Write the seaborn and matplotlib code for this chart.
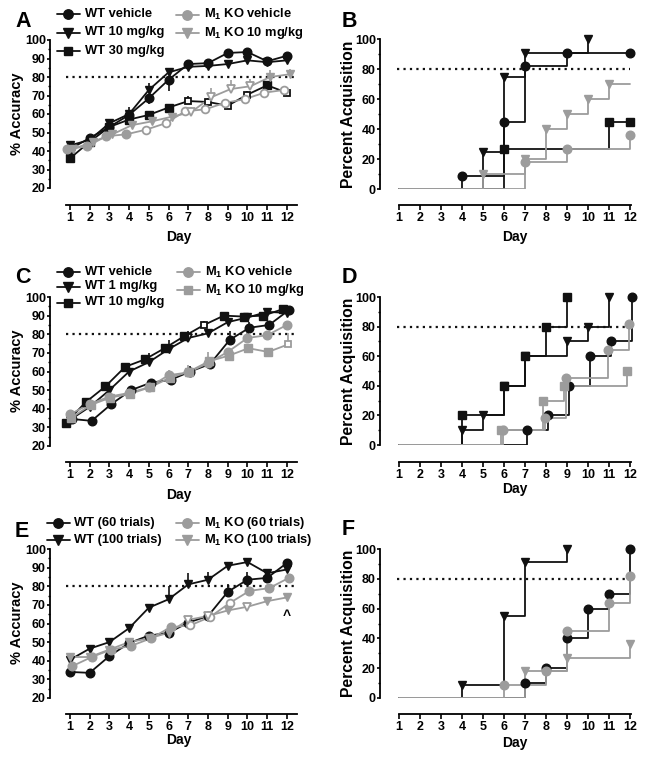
import numpy as np
import pandas as pd
import matplotlib

matplotlib.use('Agg')
import matplotlib.pyplot as plt
from matplotlib.lines import Line2D
from matplotlib.ticker import MultipleLocator
import seaborn as sns

sns.set_theme(style='ticks', rc={'axes.edgecolor': 'black', 'xtick.color': 'black',
                                 'ytick.color': 'black', 'text.color': 'black'})
plt.rcParams['font.family'] = ['Liberation Sans', 'DejaVu Sans']
plt.rcParams['font.weight'] = 'bold'
plt.rcParams['mathtext.default'] = 'regular'

BLACK = '#111111'
GRAY = '#9c9c9c'

days = list(range(1, 13))

# --- A: % accuracy, WT / M1 KO (vehicle, 10, 30 mg/kg)
a_wt_veh = [41, 47, 53, 59.5, 68.5, 78.5, 87, 87.5, 93, 93.5, 88.5, 91.5]
a_wt_veh_sem = [2, 2, 2, 3, 3, 6, 2, 2, 2, 2, 2, 2]
a_wt10 = [43, 46, 55, 60, 73, 82.5, 85.5, 86, 87, 89, 88, 89]
a_wt10_sem = [2, 2, 2, 4, 4, 2, 2, 2, 2, 2, 2, 2]
a_wt30 = [36, 45, 53, 57, 59.5, 63.5, 67, 66.5, 64.5, 70.5, 75.5, 71.5]
a_wt30_sem = [2, 2, 2, 2, 2, 2, 3, 2, 2, 2, 2, 2]
a_wt30_open = [7, 8, 9, 10, 12]
a_ko_veh = [41, 42.5, 48, 49, 51.5, 55, 61.5, 62.5, 66, 68, 71.5, 73]
a_ko_veh_sem = [2, 2, 2, 2, 2, 2, 2, 2, 2, 2, 2, 2]
a_ko_veh_open = [5, 6, 7, 8, 9, 10, 11, 12]
a_ko10 = [41, 45, 49, 54, 56, 58.5, 61, 69, 73.5, 75, 80, 81.5]
a_ko10_sem = [2, 2, 2, 2, 2, 2, 3, 5, 5, 4, 4, 3]
a_ko10_open = [7, 8, 9, 10]

# --- B: percent acquisition (step days / values)
b_wt_veh_days, b_wt_veh_pct, b_wt_veh_end = [4, 6, 7, 9, 12], [9, 45, 82, 91, 91], 12
b_wt10_days, b_wt10_pct, b_wt10_end = [5, 6, 7, 10], [25, 75, 91, 100], 10
b_wt30_days, b_wt30_pct, b_wt30_end = [6, 11, 12], [27, 45, 45], 12
b_ko_veh_days, b_ko_veh_pct, b_ko_veh_end = [7, 9, 12], [18, 27, 36], 12
b_ko10_days, b_ko10_pct, b_ko10_end = [5, 7, 8, 9, 10, 11], [10, 20, 40, 50, 60, 70], 12

# --- C: % accuracy (vehicle, 1, 10 mg/kg)
c_wt_veh = [34.5, 33.5, 42.5, 50, 54, 55.5, 60, 64, 77, 83.5, 85, 93]
c_wt_veh_sem = [2, 2, 2, 2, 2, 2, 3, 2, 5, 3, 2, 2]
c_wt1 = [34, 41, 50, 60, 65, 72, 78, 80.5, 86.5, 89, 92, 91.5]
c_wt1_sem = [2, 2, 2, 4, 5, 5, 4, 2, 3, 2, 2, 2]
c_wt1_open = [7]
c_wt10 = [32.5, 43.5, 52, 62.5, 66.5, 72.5, 79, 85, 90, 89.5, 90, 93.5]
c_wt10_sem = [2, 2, 2, 2, 2, 2, 2, 2, 2, 2, 2, 2]
c_wt10_open = [8]
c_ko_veh = [37, 42.5, 46.5, 48.5, 51.5, 58, 59.5, 64.5, 70.5, 78, 79.5, 85]
c_ko_veh_sem = [2, 2, 2, 2, 2, 3, 4, 6, 2, 3, 2, 2]
c_ko10 = [35, 42, 46, 48, 51.5, 56.5, 60, 65.5, 68.5, 72.5, 70.5, 74.5]
c_ko10_sem = [2, 2, 2, 2, 2, 2, 2, 2, 2, 2, 2, 6]
c_ko10_open = [12]

# --- D: percent acquisition
d_wt_veh_days, d_wt_veh_pct, d_wt_veh_end = [7, 8, 9, 10, 11, 12], [10, 20, 40, 60, 70, 100], 12
d_wt1_days, d_wt1_pct, d_wt1_end = [4, 5, 6, 7, 9, 10, 11], [10, 20, 40, 60, 70, 80, 100], 11
d_wt10_days, d_wt10_pct, d_wt10_end = [4, 6, 7, 8, 9], [20, 40, 60, 80, 100], 9
d_ko_veh_days, d_ko_veh_pct, d_ko_veh_end = [6, 8, 9, 11, 12], [10, 18, 45, 64, 82], 12
d_ko10_days, d_ko10_pct, d_ko10_end = [6, 8, 9, 12], [10, 30, 40, 50], 12

# --- E: % accuracy (60 vs 100 trials)
e_wt60 = [34, 33.5, 42.5, 49.5, 53.5, 55, 60.5, 64, 77, 83.5, 84.5, 92.5]
e_wt60_sem = [2, 2, 2, 2, 2, 2, 2, 2, 4, 4, 2, 2]
e_wt100 = [40.5, 46.5, 50, 57.5, 68.5, 73, 81, 83.5, 91, 93, 87, 89]
e_wt100_sem = [2, 2, 2, 2, 2, 7, 6, 4, 2, 2, 2, 2]
e_ko60 = [37, 42, 46, 48, 52, 58, 59, 63.5, 71, 77.5, 79, 84.5]
e_ko60_sem = [2, 2, 2, 2, 2, 2, 2, 2, 2, 2, 2, 2]
e_ko60_open = [7, 8, 9]
e_ko100 = [42, 42, 46, 50, 52, 55, 62, 64, 67, 69, 72, 74]
e_ko100_sem = [2, 2, 2, 2, 2, 2, 2, 2, 2, 2, 2, 2]
e_ko100_open = [7, 8, 10]

# --- F: percent acquisition
f_wt60_days, f_wt60_pct, f_wt60_end = [7, 8, 9, 10, 11, 12], [10, 20, 40, 60, 70, 100], 12
f_wt100_days, f_wt100_pct, f_wt100_end = [4, 6, 7, 9], [9, 55, 91, 100], 9
f_ko60_days, f_ko60_pct, f_ko60_end = [6, 8, 9, 11, 12], [9, 18, 45, 64, 82], 12
f_ko100_days, f_ko100_pct, f_ko100_end = [7, 9, 12], [18, 27, 36], 12

MS = {'o': 6.2, 's': 5.6, 'v': 6.4}
W, H = 645, 762

fig = plt.figure(figsize=(W / 100, H / 100), dpi=100)


def fx(x):
    return x / W


def fy(y):
    return 1 - y / H


def add_ax(l, t, r, b):
    return fig.add_axes([fx(l), fy(b), (r - l) / W, (b - t) / H])


def style_axes(ax, kind, offset):
    sns.despine(ax=ax)
    ax.spines['bottom'].set_position(('outward', offset))
    for sp in ('left', 'bottom'):
        ax.spines[sp].set_linewidth(1.3)
    ax.set_xticks(days)
    if kind == 'acc':
        ax.set_ylim(20, 100)
        ax.set_yticks(range(20, 101, 10))
        ax.yaxis.set_minor_locator(MultipleLocator(5))
        ax.set_xlim(-0.01, 12.51)
        ax.spines['bottom'].set_bounds(0.8, 12.5)
        ax.plot([0.8, 12.5], [80, 80], color=BLACK, lw=1.6, ls=(0, (1, 1.9)), zorder=1)
    else:
        ax.set_ylim(0, 100)
        ax.set_yticks(range(0, 101, 20))
        ax.yaxis.set_minor_locator(MultipleLocator(10))
        ax.set_xlim(0.095, 12.29)
        ax.spines['bottom'].set_bounds(1, 12.05)
        ax.plot([0.9, 12.0], [80, 80], color=BLACK, lw=1.6, ls=(0, (1, 1.9)), zorder=1)
    ax.tick_params(which='major', direction='out', length=2.5, width=1.2, labelsize=9, pad=0.5)
    ax.tick_params(which='minor', direction='out', length=1.6, width=1.0)
    ax.tick_params(axis='x', which='major', length=3.5, pad=1.5)
    ax.set_xlabel('')
    ax.set_ylabel('')
    for lab in ax.get_xticklabels() + ax.get_yticklabels():
        lab.set_fontweight('bold')


def line_panel(ax, series):
    for s in series:
        x = np.array(days) + s['dx']
        y = np.array(s['y'], dtype=float)
        sem = np.array(s['sem'], dtype=float)
        sns.lineplot(x=x, y=y, ax=ax, color=s['c'], lw=1.3, estimator=None, sort=False,
                     legend=False, zorder=2)
        zeros = np.zeros_like(sem)
        yerr = [sem, zeros] if s['dir'] < 0 else [zeros, sem]
        ax.errorbar(x, y, yerr=yerr, fmt='none', ecolor=s['c'], elinewidth=1.2, capsize=0, zorder=2)
        is_open = np.isin(days, s.get('open', []))
        ax.plot(x[~is_open], y[~is_open], ls='none', marker=s['m'], ms=MS[s['m']],
                mfc=s['c'], mec=s['c'], zorder=3, clip_on=False)
        ax.plot(x[is_open], y[is_open], ls='none', marker=s['m'], ms=MS[s['m']] - 0.6,
                mfc='white', mec=s['c'], mew=1.3, zorder=3, clip_on=False)


def step_panel(ax, series):
    for s in series:
        xd = [d + s.get('dx', 0) for d in s['days']]
        xs = [1] + xd + [max(s['end'], xd[-1])]
        ys = [0] + list(s['pct']) + [s['pct'][-1]]
        sns.lineplot(x=xs, y=ys, ax=ax, color=s['c'], lw=1.3, estimator=None, sort=False,
                     legend=False, drawstyle='steps-post', zorder=2)
        ax.plot(xd, s['pct'], ls='none', marker=s['m'], ms=MS[s['m']], mfc=s['c'],
                mec=s['c'], zorder=3, clip_on=False)


def legend_entry(x, y, label, color, marker):
    fig.add_artist(Line2D([fx(x), fx(x + 23)], [fy(y), fy(y)], transform=fig.transFigure,
                          color=color, lw=1.3))
    fig.add_artist(Line2D([fx(x + 11)], [fy(y)], transform=fig.transFigure, ls='none',
                          marker=marker, ms=MS[marker] + 0.6, mfc=color, mec=color))
    fig.text(fx(x + 28), fy(y), label, ha='left', va='center', fontsize=9.3, fontweight='bold')


KO = r'M$_1$ KO'

# ---------------- A
axA = add_ax(50, 40, 297, 188)
line_panel(axA, [
    dict(y=a_wt_veh, sem=a_wt_veh_sem, dir=-1, c=BLACK, m='o', dx=0),
    dict(y=a_wt10, sem=a_wt10_sem, dir=1, c=BLACK, m='v', dx=0),
    dict(y=a_wt30, sem=a_wt30_sem, dir=1, c=BLACK, m='s', dx=0, open=a_wt30_open),
    dict(y=a_ko_veh, sem=a_ko_veh_sem, dir=1, c=GRAY, m='o', dx=-0.15, open=a_ko_veh_open),
    dict(y=a_ko10, sem=a_ko10_sem, dir=1, c=GRAY, m='v', dx=0.15, open=a_ko10_open),
])
style_axes(axA, 'acc', 12.2)

# ---------------- B
axB = add_ax(380, 39, 636, 189)
step_panel(axB, [
    dict(days=b_wt_veh_days, pct=b_wt_veh_pct, end=b_wt_veh_end, c=BLACK, m='o'),
    dict(days=b_wt10_days, pct=b_wt10_pct, end=b_wt10_end, c=BLACK, m='v'),
    dict(days=b_wt30_days, pct=b_wt30_pct, end=b_wt30_end, c=BLACK, m='s'),
    dict(days=b_ko_veh_days, pct=b_ko_veh_pct, end=b_ko_veh_end, c=GRAY, m='o'),
    dict(days=b_ko10_days, pct=b_ko10_pct, end=b_ko10_end, c=GRAY, m='v'),
])
style_axes(axB, 'pct', 11.5)

# ---------------- C
axC = add_ax(50, 297, 297, 446)
line_panel(axC, [
    dict(y=c_wt_veh, sem=c_wt_veh_sem, dir=1, c=BLACK, m='o', dx=0.1),
    dict(y=c_wt1, sem=c_wt1_sem, dir=1, c=BLACK, m='v', dx=0, open=c_wt1_open),
    dict(y=c_wt10, sem=c_wt10_sem, dir=1, c=BLACK, m='s', dx=-0.2, open=c_wt10_open),
    dict(y=c_ko_veh, sem=c_ko_veh_sem, dir=1, c=GRAY, m='o', dx=0),
    dict(y=c_ko10, sem=c_ko10_sem, dir=1, c=GRAY, m='s', dx=0.05, open=c_ko10_open),
])
style_axes(axC, 'acc', 11.5)

# ---------------- D
axD = add_ax(380, 297, 636, 445)
step_panel(axD, [
    dict(days=d_wt_veh_days, pct=d_wt_veh_pct, end=d_wt_veh_end, c=BLACK, m='o', dx=0.12),
    dict(days=d_wt1_days, pct=d_wt1_pct, end=d_wt1_end, c=BLACK, m='v'),
    dict(days=d_wt10_days, pct=d_wt10_pct, end=d_wt10_end, c=BLACK, m='s'),
    dict(days=d_ko_veh_days, pct=d_ko_veh_pct, end=d_ko_veh_end, c=GRAY, m='o', dx=-0.03),
    dict(days=d_ko10_days, pct=d_ko10_pct, end=d_ko10_end, c=GRAY, m='s', dx=-0.15),
])
style_axes(axD, 'pct', 12.2)

# ---------------- E
axE = add_ax(50, 549, 297, 698)
line_panel(axE, [
    dict(y=e_wt60, sem=e_wt60_sem, dir=1, c=BLACK, m='o', dx=0),
    dict(y=e_wt100, sem=e_wt100_sem, dir=1, c=BLACK, m='v', dx=0),
    dict(y=e_ko60, sem=e_ko60_sem, dir=1, c=GRAY, m='o', dx=0.1, open=e_ko60_open),
    dict(y=e_ko100, sem=e_ko100_sem, dir=1, c=GRAY, m='v', dx=0, open=e_ko100_open),
])
style_axes(axE, 'acc', 11.5)
axE.text(12, 64, '^', ha='center', va='center', fontsize=10, fontweight='bold')

# ---------------- F
axF = add_ax(380, 549, 636, 698)
step_panel(axF, [
    dict(days=f_wt60_days, pct=f_wt60_pct, end=f_wt60_end, c=BLACK, m='o'),
    dict(days=f_wt100_days, pct=f_wt100_pct, end=f_wt100_end, c=BLACK, m='v'),
    dict(days=f_ko60_days, pct=f_ko60_pct, end=f_ko60_end, c=GRAY, m='o'),
    dict(days=f_ko100_days, pct=f_ko100_pct, end=f_ko100_end, c=GRAY, m='v'),
])
style_axes(axF, 'pct', 11.5)

# ---------------- labels
for letter, x, y in [('A', 15, 27), ('B', 342, 27), ('C', 15, 283),
                     ('D', 342, 283), ('E', 15, 537), ('F', 342, 535)]:
    fig.text(fx(x), fy(y), letter, ha='left', va='baseline', fontsize=15.5, fontweight='bold')

for label, x, y, size in [('% Accuracy', 17, 114, 10.5), ('Percent Acquisition', 349, 114, 11.3),
                          ('% Accuracy', 17, 371, 10.5), ('Percent Acquisition', 349, 371, 11.3),
                          ('% Accuracy', 17, 623, 10.5), ('Percent Acquisition', 349, 623, 11.3)]:
    fig.text(fx(x), fy(y), label, rotation=90, ha='center', va='center',
             fontsize=size, fontweight='bold')

for x, y in [(178.5, 237), (514.5, 237), (178.5, 495), (514.5, 489), (178.5, 740), (514.5, 743)]:
    fig.text(fx(x), fy(y), 'Day', ha='center', va='center', fontsize=10, fontweight='bold')

# ---------------- legends
legend_entry(57, 14, 'WT vehicle', BLACK, 'o')
legend_entry(57, 32.5, 'WT 10 mg/kg', BLACK, 'v')
legend_entry(57, 51, 'WT 30 mg/kg', BLACK, 's')
legend_entry(176, 14.5, KO + ' vehicle', GRAY, 'o')
legend_entry(176, 33, KO + ' 10 mg/kg', GRAY, 'v')

legend_entry(57, 272, 'WT vehicle', BLACK, 'o')
legend_entry(57, 286.5, 'WT 1 mg/kg', BLACK, 'v')
legend_entry(57, 302.5, 'WT 10 mg/kg', BLACK, 's')
legend_entry(177, 272, KO + ' vehicle', GRAY, 'o')
legend_entry(177, 290, KO + ' 10 mg/kg', GRAY, 's')

legend_entry(46.5, 523, 'WT (60 trials)', BLACK, 'o')
legend_entry(46.5, 540, 'WT (100 trials)', BLACK, 'v')
legend_entry(176, 523, KO + ' (60 trials)', GRAY, 'o')
legend_entry(176, 540, KO + ' (100 trials)', GRAY, 'v')

fig.savefig('out.png', dpi=100)
